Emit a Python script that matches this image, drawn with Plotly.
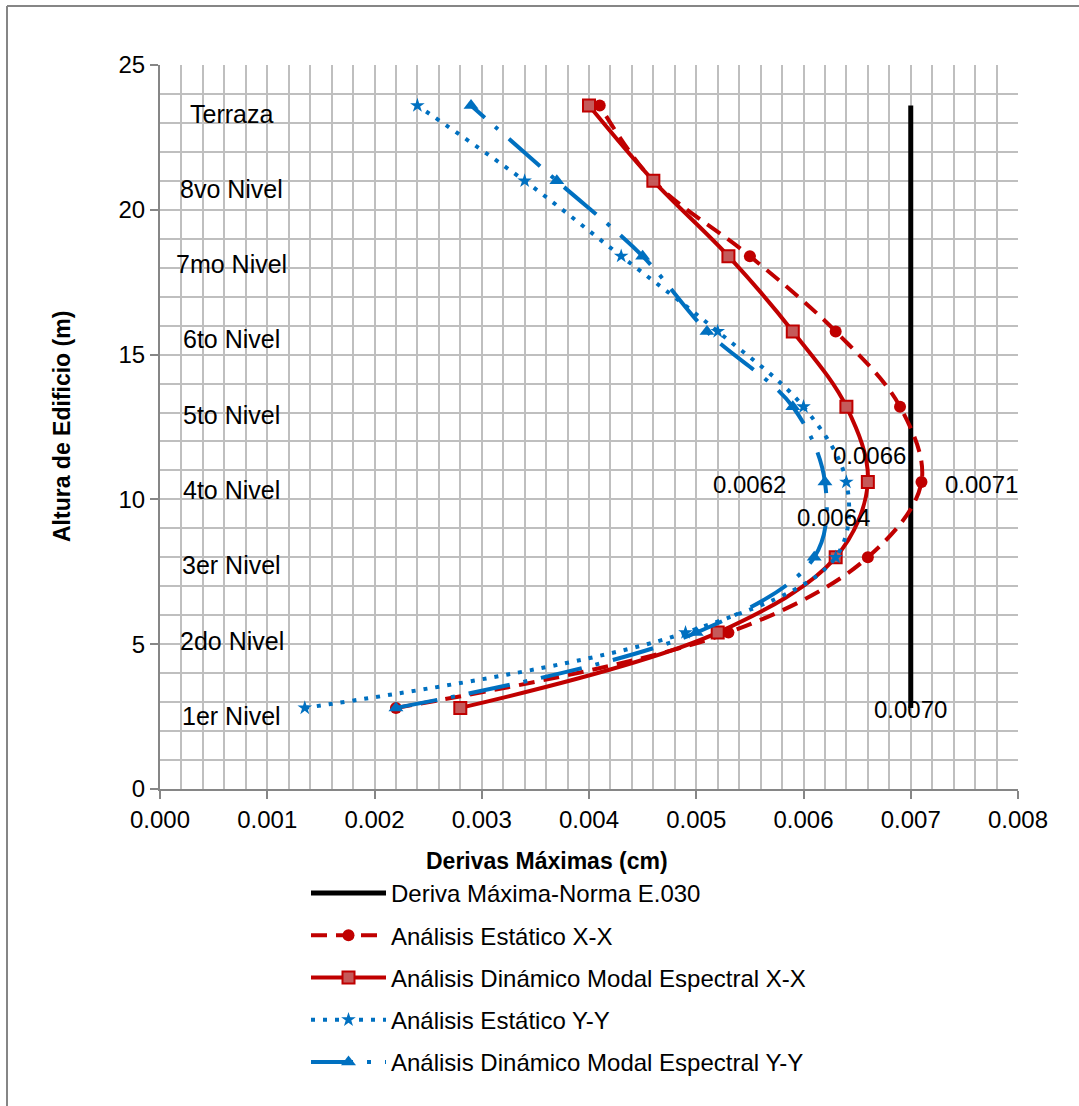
import plotly.graph_objects as go

# ---------------- data ----------------
niveles = ["1er Nivel", "2do Nivel", "3er Nivel", "4to Nivel", "5to Nivel",
           "6to Nivel", "7mo Nivel", "8vo Nivel", "Terraza"]
altura = [2.8, 5.4, 8.0, 10.6, 13.2, 15.8, 18.4, 21.0, 23.6]

norma = [0.0070, 0.0070, 0.0070, 0.0070, 0.0070, 0.0070, 0.0070, 0.0070, 0.0070]
estatico_xx = [0.0022, 0.0053, 0.0066, 0.0071, 0.0069, 0.0063, 0.0055, 0.0046, 0.0041]
dinamico_xx = [0.0028, 0.0052, 0.0063, 0.0066, 0.0064, 0.0059, 0.0053, 0.0046, 0.0040]
estatico_yy = [0.00135, 0.0049, 0.0063, 0.0064, 0.0060, 0.0052, 0.0043, 0.0034, 0.0024]
dinamico_yy = [0.0022, 0.0050, 0.0061, 0.0062, 0.0059, 0.0051, 0.0045, 0.0037, 0.0029]

x_ticks = [0.000, 0.001, 0.002, 0.003, 0.004, 0.005, 0.006, 0.007, 0.008]
y_ticks = [0, 5, 10, 15, 20, 25]

FONT = "Liberation Sans"
FS = 24
RED = "#C00000"
BLUE = "#0070C0"

fig = go.Figure()

fig.add_trace(go.Scatter(
    x=norma, y=altura, mode="lines", name="Deriva Máxima-Norma E.030",
    line=dict(color="black", width=5), legendgroup="a"))

fig.add_trace(go.Scatter(
    x=estatico_xx, y=altura, mode="lines+markers", name="Análisis Estático X-X",
    line=dict(color=RED, width=4, dash="16px,9px", shape="spline", smoothing=1),
    marker=dict(symbol="circle", size=12, color=RED), legendgroup="b"))

fig.add_trace(go.Scatter(
    x=dinamico_xx, y=altura, mode="lines+markers",
    name="Análisis Dinámico Modal Espectral X-X",
    line=dict(color=RED, width=4, shape="spline", smoothing=1),
    marker=dict(symbol="square", size=12, color="#C55A5A",
                line=dict(color=RED, width=2)), legendgroup="c"))

fig.add_trace(go.Scatter(
    x=estatico_yy, y=altura, mode="lines+markers", name="Análisis Estático Y-Y",
    line=dict(color=BLUE, width=4, dash="4px,8px", shape="spline", smoothing=1),
    marker=dict(symbol="star", size=11, color=BLUE), legendgroup="d"))

fig.add_trace(go.Scatter(
    x=dinamico_yy, y=altura, mode="lines+markers",
    name="Análisis Dinámico Modal Espectral Y-Y",
    line=dict(color=BLUE, width=4, dash="42px,14px,4px,14px", shape="spline", smoothing=1),
    marker=dict(symbol="triangle-up", size=13, color=BLUE), legendgroup="e"))

annotations = []
# floor labels
for name, h in zip(niveles, altura):
    annotations.append(dict(x=0.00067, y=h, xref="x", yref="y", text=name,
                            showarrow=False, xanchor="center", yanchor="middle",
                            yshift=-8, font=dict(family=FONT, size=25, color="black")))

# data labels at the 4th level and the norm
i4 = 3
annotations.append(dict(x=dinamico_xx[i4], y=altura[i4], text=f"{dinamico_xx[i4]:.4f}",
                        showarrow=False, xshift=2, yshift=27,
                        font=dict(family=FONT, size=FS, color="black")))
annotations.append(dict(x=estatico_xx[i4], y=altura[i4], text=f"{estatico_xx[i4]:.4f}",
                        showarrow=False, xshift=60, yshift=-2,
                        font=dict(family=FONT, size=FS, color="black")))
annotations.append(dict(x=dinamico_yy[i4], y=altura[i4], text=f"{dinamico_yy[i4]:.4f}",
                        showarrow=False, xshift=-75, yshift=-2,
                        font=dict(family=FONT, size=FS, color="black")))
annotations.append(dict(x=estatico_yy[i4], y=altura[i4], text=f"{estatico_yy[i4]:.4f}",
                        showarrow=False, xshift=-13, yshift=-35,
                        font=dict(family=FONT, size=FS, color="black")))
annotations.append(dict(x=norma[0], y=altura[0], text=f"{norma[0]:.4f}",
                        showarrow=False, xshift=0, yshift=-2,
                        font=dict(family=FONT, size=FS, color="black")))

# axis titles
annotations.append(dict(x=(547 - 160) / 858, y=(789 - 861) / 724, xref="paper", yref="paper",
                        text="<b>Derivas Máximas (cm)</b>", showarrow=False,
                        xanchor="center", yanchor="middle",
                        font=dict(family=FONT, size=23, color="black")))
annotations.append(dict(x=(62 - 160) / 858, y=0.5, xref="paper", yref="paper",
                        text="<b>Altura de Edificio (m)</b>", showarrow=False, textangle=-90,
                        xanchor="center", yanchor="middle",
                        font=dict(family=FONT, size=23, color="black")))

bx = (7 - 160) / 858
by = (789 - 6) / 724
fig.update_layout(
    width=1079, height=1106,
    margin=dict(l=160, r=61, t=65, b=317),
    paper_bgcolor="white", plot_bgcolor="white",
    font=dict(family=FONT, size=FS, color="black"),
    showlegend=True,
    legend=dict(x=(306 - 160) / 858, y=(789 - 871) / 724, xanchor="left", yanchor="top",
                traceorder="grouped", tracegroupgap=8, itemwidth=75,
                font=dict(family=FONT, size=FS, color="black"),
                bgcolor="rgba(0,0,0,0)"),
    annotations=annotations,
    shapes=[
        dict(type="line", xref="paper", yref="paper", x0=bx, x1=bx, y0=-0.6, y1=by,
             line=dict(color="#868686", width=2), layer="below"),
        dict(type="line", xref="paper", yref="paper", x0=bx, x1=1.2, y0=by, y1=by,
             line=dict(color="#868686", width=2), layer="below"),
    ],
)

fig.update_xaxes(range=[0, 0.008], tickvals=x_ticks, ticktext=[f"{v:.3f}" for v in x_ticks],
                 showgrid=True, gridcolor="#BFBFBF", gridwidth=2,
                 minor=dict(dtick=0.0002, showgrid=True, gridcolor="#BFBFBF", gridwidth=2),
                 showline=True, linecolor="#868686", linewidth=2,
                 ticks="outside", ticklen=8, tickcolor="#868686", tickwidth=2,
                 zeroline=False, tickfont=dict(family=FONT, size=FS, color="black"))
fig.update_yaxes(range=[0, 25], tickvals=y_ticks,
                 showgrid=True, gridcolor="#BFBFBF", gridwidth=2,
                 minor=dict(dtick=1, showgrid=True, gridcolor="#BFBFBF", gridwidth=2),
                 showline=True, linecolor="#868686", linewidth=2,
                 ticks="outside", ticklen=8, tickcolor="#868686", tickwidth=2,
                 zeroline=False, tickfont=dict(family=FONT, size=FS, color="black"))

fig.write_html("out.html")
